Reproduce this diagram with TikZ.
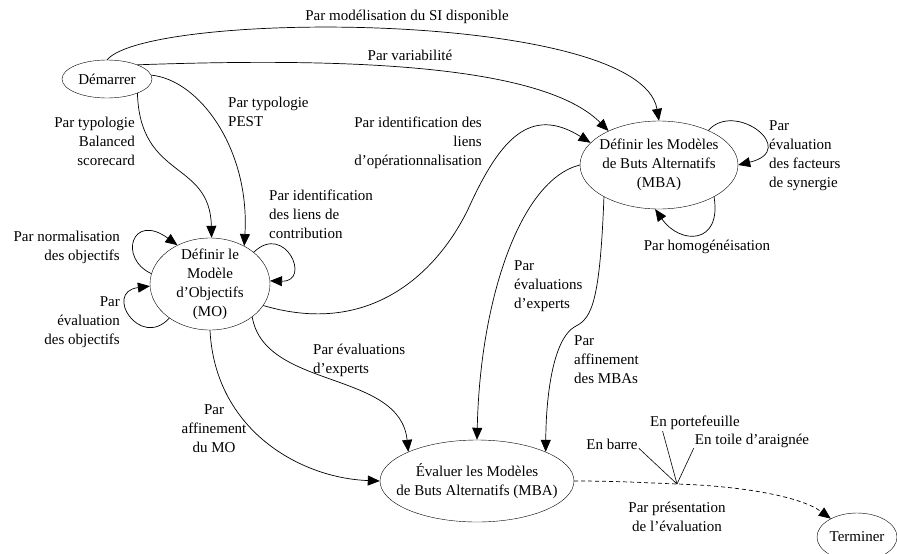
\documentclass[tikz,border=0pt]{standalone}
\usepackage{fontspec}
\setmainfont{Liberation Serif}
\usepackage{tikz}
\usetikzlibrary{positioning,shapes,arrows.meta}

\tikzset{
    state/.style={ellipse,draw,inner sep=0pt},
    lbl/.style={inner sep=1pt},
    flow/.style={-{Triangle[length=12pt,width=10pt]},line width=0.7pt},
}

\begin{document}
\begin{tikzpicture}[x=1pt,y=-1pt,font=\fontsize{15}{19}\selectfont]
\useasboundingbox (0,0) rectangle (897,554);

% etats
\node[state,minimum width=90pt,minimum height=38pt] (dem) at (107,79) {Démarrer};
\node[state,minimum width=120pt,minimum height=92pt,
      label={[lbl,align=center]center:{Définir le\\Modèle\\d’Objectifs\\(MO)}}] (mo) at (210,284) {};
\node[state,minimum width=158pt,minimum height=88pt,
      label={[lbl,align=center]center:{Définir les Modèles\\de Buts Alternatifs\\(MBA)}}] (mba) at (659,165) {};
\node[state,minimum width=194pt,minimum height=82pt,
      label={[lbl,align=center]center:{Évaluer les Modèles\\de Buts Alternatifs (MBA)}}] (eval) at (477,481) {};
\node[state,minimum width=80pt,minimum height=48pt] (term) at (857,537) {Terminer};

% transitions depuis Demarrer
\draw[flow] (dem.north) .. controls (150,10) and (640,10) .. (mba.north);
\draw[flow] (dem.25) .. controls (330,58) and (540,62) .. (mba.146);
\draw[flow] (dem.-25) .. controls (140,180) and (210,160) .. (mo.88);
\draw[flow] (dem.5) .. controls (200,80) and (250,150) .. (mo.48);

% boucles sur MO
\draw[flow] (mo.36) .. controls (285,222) and (312,282) .. (mo.3);
\draw[flow] (mo.170) .. controls (118,258) and (132,212) .. (mo.130);
\draw[flow] (mo.220) .. controls (140,350) and (103,292) .. (mo.182);

% MO vers MBA et Evaluer
\draw[flow] (mo.-22) .. controls (380,340) and (445,260) .. (470,205)
    .. controls (500,140) and (530,105) .. (mba.162);
\draw[flow] (mo.-38) .. controls (265,390) and (400,370) .. (eval.157);
\draw[flow] (mo.south) .. controls (215,430) and (300,478) .. (eval.west);

% MBA vers Evaluer
\draw[flow] (mba.west) .. controls (520,180) and (480,300) .. (eval.north);
\draw[flow] (mba.210) .. controls (600,300) and (592,318) .. (576,326)
    .. controls (552,338) and (546,400) .. (eval.23);

% boucles sur MBA
\draw[flow] (mba.35) .. controls (735,100) and (800,150) .. (mba.0);
\draw[flow] (mba.-30) .. controls (722,245) and (680,245) .. (mba.265);

% presentation
\coordinate (branch) at (677,484);
\draw[flow,dash pattern=on 4pt off 3pt] (eval.east) .. controls (620,481) and (650,483) .. (branch)
    .. controls (740,486) and (800,496) .. (term.145);

% etiquettes
\node[lbl] (lSI) at (407,17) {Par modélisation du SI disponible};
\node[lbl] (lVar) at (410,55) {Par variabilité};
\node[lbl,align=right,anchor=east] (lBsc) at (136,141) {Par typologie\\Balanced\\scorecard};
\node[lbl,align=left,anchor=west] (lPest) at (227,112) {Par typologie\\PEST};
\node[lbl,align=left,anchor=west] (lContrib) at (268,214) {Par identification\\des liens de\\contribution};
\node[lbl,align=right,anchor=east] (lNorm) at (121,247) {Par normalisation\\des objectifs};
\node[lbl,align=right,anchor=east] (lEvalObj) at (121,322) {Par\\évaluation\\des objectifs};
\node[lbl,align=right,anchor=east] (lOper) at (483,143) {Par identification des\\liens\\d’opérationnalisation};
\node[lbl,align=left,anchor=west] (lExpMO) at (312,360) {Par évaluations\\d’experts};
\node[lbl,align=center] (lAffMO) at (214,429) {Par\\affinement\\du MO};
\node[lbl,align=left,anchor=west] (lExpMBA) at (513,286) {Par\\évaluations\\d’experts};
\node[lbl,align=left,anchor=west] (lAffMBA) at (573,360) {Par\\affinement\\des MBAs};
\node[lbl,align=left,anchor=west] (lSyn) at (768,156) {Par\\évaluation\\des facteurs\\de synergie};
\node[lbl] (lHomo) at (707,247) {Par homogénéisation};
\node[lbl,align=center] (lPres) at (677,517) {Par présentation\\de l’évaluation};

% types de presentation
\node[lbl] (barre) at (612,444) {En barre};
\node[lbl] (portef) at (695,423) {En portefeuille};
\node[lbl] (toile) at (752,441) {En toile d’araignée};
\foreach \n/\a in {barre/-9, portef/194, toile/187} {
    \draw[line width=0.6pt] (branch) -- (\n.\a);
}
\end{tikzpicture}
\end{document}
